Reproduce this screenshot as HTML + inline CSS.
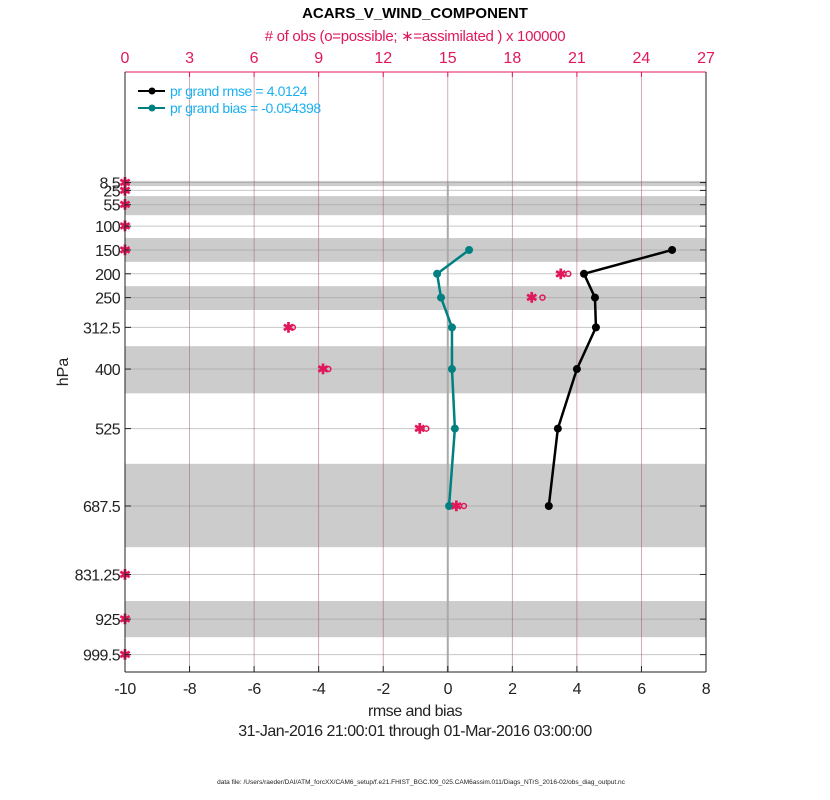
<!DOCTYPE html>
<html><head><meta charset="utf-8">
<style>
html,body{margin:0;padding:0;background:#fff;}
svg{display:block;font-family:"Liberation Sans",sans-serif;}
</style></head>
<body>
<svg id="chart" width="830" height="800" viewBox="0 0 830 800">
<rect x="0" y="0" width="830" height="800" fill="#fff"/>
<g id="bands"></g><g id="grid"></g><g id="marks"></g><g id="axes"></g>
<text x="415" y="18" text-anchor="middle" font-size="15" font-weight="bold" fill="#000">ACARS_V_WIND_COMPONENT</text>
<text x="415" y="41" text-anchor="middle" font-size="15" fill="#e0185a" letter-spacing="-0.3"># of obs (o=possible; ∗=assimilated ) x 100000</text>
<text x="415" y="716" text-anchor="middle" font-size="16" fill="#222" letter-spacing="-0.5">rmse and bias</text>
<text x="415" y="736" text-anchor="middle" font-size="16" fill="#222" letter-spacing="-0.5">31-Jan-2016 21:00:01 through 01-Mar-2016 03:00:00</text>
<text x="421" y="784" text-anchor="middle" font-size="6.5" fill="#222">data file: /Users/raeder/DAI/ATM_forcXX/CAM6_setup/f.e21.FHIST_BGC.f09_025.CAM6assim.011/Diags_NTrS_2016-02/obs_diag_output.nc</text>
<text transform="translate(68,372) rotate(-90)" text-anchor="middle" font-size="16" fill="#222">hPa</text>
<g>
<line x1="138" y1="91" x2="165" y2="91" stroke="#000" stroke-width="2"/><circle cx="152" cy="91" r="3.5" fill="#000"/>
<text x="170" y="96" font-size="14" letter-spacing="-0.4" fill="#1ab0f0">pr grand rmse = 4.0124</text>
<line x1="138" y1="108" x2="165" y2="108" stroke="#008080" stroke-width="2"/><circle cx="152" cy="108" r="3.5" fill="#008080"/>
<text x="170" y="113" font-size="14" letter-spacing="-0.4" fill="#1ab0f0">pr grand bias = -0.054398</text>
</g>
</svg>
<script>
const levels = [8.5, 25, 55, 100, 150, 200, 250, 312.5, 400, 525, 687.5, 831.25, 925, 999.5];
const levelLabels = ["8.5","25","55","100","150","200","250","312.5","400","525","687.5","831.25","925","999.5"];
const bandEdges = [[5,16],[37,77],[125,175],[226,276],[352,451],[599,774],[887,963]];
const rmseLevels = [150, 200, 250, 312.5, 400, 525, 687.5];
const rmseValues = [6.95, 4.22, 4.56, 4.59, 4.0, 3.41, 3.13];
const biasValues = [0.66, -0.33, -0.21, 0.13, 0.13, 0.22, 0.04];
const possibleObs = [0, 0, 0, 0, 0, 20.6, 19.4, 7.8, 9.45, 14.0, 15.75, 0, 0, 0];
const assimObs = [0, 0, 0, 0, 0, 20.25, 18.9, 7.6, 9.2, 13.7, 15.4, 0, 0, 0];
const xTicks = [-10, -8, -6, -4, -2, 0, 2, 4, 6, 8];
const topTicks = [0, 3, 6, 9, 12, 15, 18, 21, 24, 27];

const L=125,R=706,T=72,B=672;
const xs = v => L + (v + 10) / 18 * (R - L);
const xt = n => L + n / 27 * (R - L);
const ys = p => T + (p + 223.6) / (1036 + 223.6) * (B - T);
const NS='http://www.w3.org/2000/svg';
function mk(parent, tag, attrs){const e=document.createElementNS(NS,tag);for(const k in attrs)e.setAttribute(k,attrs[k]);document.getElementById(parent).appendChild(e);return e;}

bandEdges.forEach(b=>{
  const e=mk('bands','rect',{x:L,y:ys(b[0]),width:R-L,height:ys(b[1])-ys(b[0]),fill:'#cccccc'});
  
  
});
levels.forEach((p,i)=>{
  const e=mk('grid','line',{x1:L,x2:R,y1:ys(p),y2:ys(p),stroke:'#999',"stroke-opacity":0.55,"stroke-width":1});
  
  
  const t=mk('axes','text',{x:L-5,y:ys(p)+6,"text-anchor":"end","font-size":16,"letter-spacing":-0.6,fill:'#222'});
  t.textContent=levelLabels[i];
  
  
  mk('axes','line',{x1:L,x2:L+6,y1:ys(p),y2:ys(p),stroke:'#222'});
  mk('axes','line',{x1:R,x2:R-6,y1:ys(p),y2:ys(p),stroke:'#222'});
});
topTicks.forEach(n=>{
  if(n>0&&n<27){const g=mk('grid','line',{x1:xt(n),x2:xt(n),y1:T,y2:B,stroke:'#a0506a',"stroke-opacity":0.6,"stroke-width":0.8});
  
  }
  const t=mk('axes','text',{x:xt(n),y:T-9,"text-anchor":"middle","font-size":16,fill:'#e0185a'});
  t.textContent=n;
  
  
  mk('axes','line',{x1:xt(n),x2:xt(n),y1:T,y2:T+5,stroke:'#e0185a'});
});
const z=mk('grid','line',{x1:xs(0),x2:xs(0),y1:ys(8.5),y2:B,stroke:'#aaa',"stroke-width":2});


xTicks.forEach(v=>{
  const t=mk('axes','text',{x:xs(v),y:B+22,"text-anchor":"middle","font-size":16,"letter-spacing":-0.5,fill:'#222'});
  t.textContent=v;
  
  
  mk('axes','line',{x1:xs(v),x2:xs(v),y1:B,y2:B-6,stroke:'#222'});
});
mk('axes','line',{x1:L,x2:R,y1:T,y2:T,stroke:'#e0185a'});
mk('axes','line',{x1:L,x2:R,y1:B,y2:B,stroke:'#222'});
mk('axes','line',{x1:L,x2:L,y1:T,y2:B,stroke:'#222'});
mk('axes','line',{x1:R,x2:R,y1:T,y2:B,stroke:'#222'});

function series(vals,color,name){
  const pts=rmseLevels.map((p,i)=>xs(vals[i])+','+ys(p)).join(' ');
  const pl=mk('marks','polyline',{points:pts,fill:'none',stroke:color,"stroke-width":2.5});
  
  
  rmseLevels.forEach((p,i)=>{
    const c=mk('marks','circle',{cx:xs(vals[i]),cy:ys(p),r:4,fill:color});
    
    
  });
}
series(biasValues,'#008080','bias');
series(rmseValues,'#000','rmse');

levels.forEach((p,i)=>{
  const o=mk('marks','circle',{cx:xt(possibleObs[i]),cy:ys(p),r:2.5,fill:'none',stroke:'#e0185a',"stroke-width":1.5});
  
  
  const s=mk('marks','text',{x:xt(assimObs[i]),y:ys(p)+5,"text-anchor":"middle","font-size":14,"font-weight":"bold",fill:'#e0185a'});
  s.textContent='✱';
  
  
});
</script>
</body></html>
